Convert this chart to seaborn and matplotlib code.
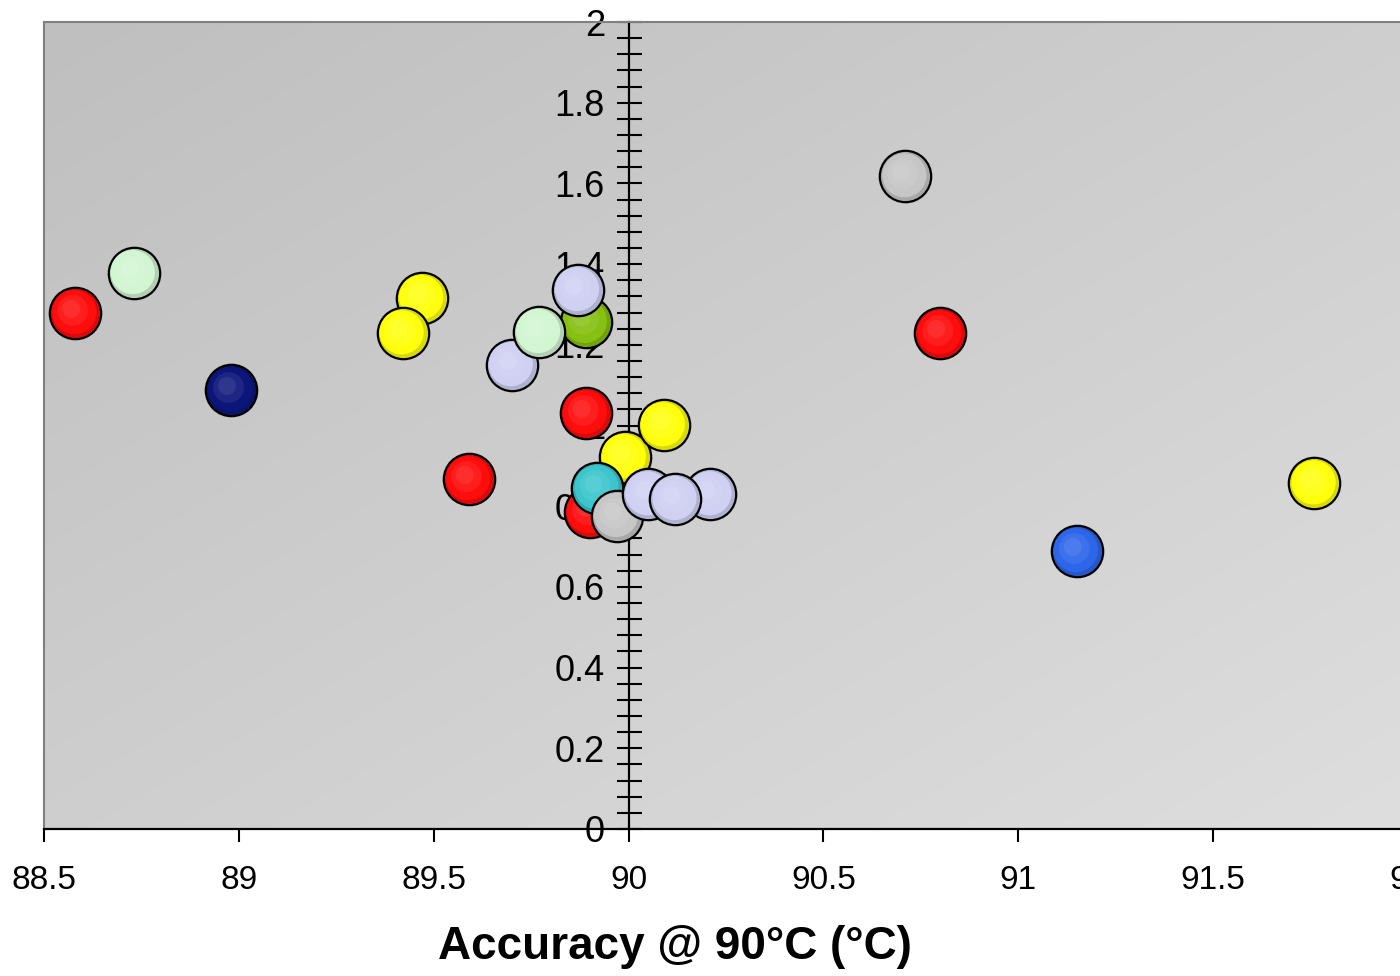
import numpy as np
import pandas as pd
import matplotlib
matplotlib.use("Agg")
import matplotlib.pyplot as plt
import matplotlib.transforms as mtransforms
from matplotlib.ticker import MultipleLocator, FuncFormatter
import matplotlib.colors as mcolors
import seaborn as sns

# ---- data (drawing order = stacking order) ----
accuracy = [88.58, 88.73, 88.98, 89.47, 89.42, 89.59, 89.70, 89.89, 89.77, 89.87,
            89.89, 89.99, 90.09, 89.90, 89.92, 89.97, 90.05, 90.21, 90.12,
            90.71, 90.80, 91.15, 91.76]
value = [1.279, 1.378, 1.088, 1.316, 1.229, 0.867, 1.150, 1.257, 1.232, 1.336,
         1.031, 0.922, 1.001, 0.786, 0.845, 0.776, 0.830, 0.830, 0.818,
         1.618, 1.229, 0.689, 0.857]
group = ["red", "lightgreen", "navy", "yellow", "yellow", "red", "lavender", "olive",
         "lightgreen", "lavender", "red", "yellow", "yellow", "red", "cyan", "gray",
         "lavender", "lavender", "lavender", "gray", "red", "blue", "yellow"]

x_ticks = [88.5, 89, 89.5, 90, 90.5, 91, 91.5, 92]
y_ticks = [0, 0.2, 0.4, 0.6, 0.8, 1, 1.2, 1.4, 1.6, 1.8, 2]
x_label = "Accuracy @ 90°C (°C)"

palette = {
    "red": "#ff0c0c",
    "lightgreen": "#d2f5d2",
    "navy": "#0c167a",
    "yellow": "#ffff0c",
    "lavender": "#cfd0f2",
    "olive": "#86c012",
    "cyan": "#3cc6cc",
    "gray": "#c6c6c6",
    "blue": "#2e66ea",
}

df = pd.DataFrame({"accuracy": accuracy, "value": value, "group": group})

sns.set_theme(style="white")
plt.rcParams["font.family"] = ["Liberation Sans", "DejaVu Sans"]

fig = plt.figure(figsize=(14, 9.76), dpi=100)
ax = fig.add_axes([44 / 1400, 1 - 829 / 976, 1364 / 1400, 807 / 976])
ax.set_facecolor("none")

# gradient background of plot area: dark top-left -> light bottom-right
gx, gy = np.meshgrid(np.linspace(0, 1, 200), np.linspace(0, 1, 200))
grad = (gx + gy) / 2.0
cmap = mcolors.LinearSegmentedColormap.from_list("bg", ["#bfbfbf", "#dedede"])
ax.imshow(grad, cmap=cmap, extent=[0, 1, 0, 1], transform=ax.transAxes,
          aspect="auto", origin="upper", zorder=0, interpolation="bilinear")

diam_pt = 37
base_s = diam_pt ** 2

def shade(c, f):
    r = np.array(mcolors.to_rgb(c))
    if f < 0:
        return tuple(r * (1 + f))
    return tuple(r + (1 - r) * f)

for i in range(len(df)):
    row = df.iloc[[i]]
    col = palette[row["group"].iloc[0]]
    sns.scatterplot(data=row, x="accuracy", y="value", color=shade(col, -0.15),
                    s=base_s, edgecolor="black", linewidth=1.6, ax=ax,
                    legend=False, zorder=2)
    for frac, lf in [(0.86, 0.0), (0.6, 0.07), (0.35, 0.14)]:
        off = mtransforms.ScaledTranslation(-diam_pt * 0.12 * (1 - frac) / 72,
                                            diam_pt * 0.12 * (1 - frac) / 72,
                                            fig.dpi_scale_trans)
        ax.scatter(row["accuracy"], row["value"], s=(diam_pt * frac) ** 2,
                   color=shade(col, lf), edgecolor="none", zorder=2,
                   transform=ax.transData + off)

ax.set_xlim(88.5, 92)
ax.set_ylim(0, 2)

# axes / spines
ax.spines["left"].set_position(("data", 90))
ax.spines["left"].set_color("black")
ax.spines["left"].set_linewidth(1.6)
ax.spines["left"].set_zorder(1.5)
ax.spines["bottom"].set_color("black")
ax.spines["bottom"].set_linewidth(1.6)
ax.spines["top"].set_color("#808080")
ax.spines["top"].set_linewidth(1.5)
ax.spines["right"].set_visible(False)
ax.plot([0, 0], [0, 1], transform=ax.transAxes, color="#808080", lw=1.5,
        zorder=1, clip_on=False)

ax.set_xticks(x_ticks)
ax.set_xticklabels([f"{t:g}" for t in x_ticks])
ax.set_yticks(y_ticks)
ax.yaxis.set_major_formatter(FuncFormatter(lambda v, p: f"{v:g}"))
ax.yaxis.set_minor_locator(MultipleLocator(0.04))

ax.tick_params(axis="x", direction="out", length=9, width=1.5, color="black",
               labelsize=24, pad=17, bottom=True)
ax.tick_params(axis="y", which="both", direction="inout", length=18, width=1.5,
               color="black", left=True)
ax.tick_params(axis="y", which="major", labelsize=26, pad=8)
for lab in ax.get_yticklabels() + ax.get_xticklabels():
    lab.set_color("black")

ax.set_ylabel("")
ax.set_xlabel(x_label, fontsize=33, fontweight="bold", color="black")
ax.xaxis.set_label_coords((675 - 44) / 1364, (829 - 947) / 807)
ax.xaxis.label.set_verticalalignment("center")

fig.savefig("out.png", dpi=100)
